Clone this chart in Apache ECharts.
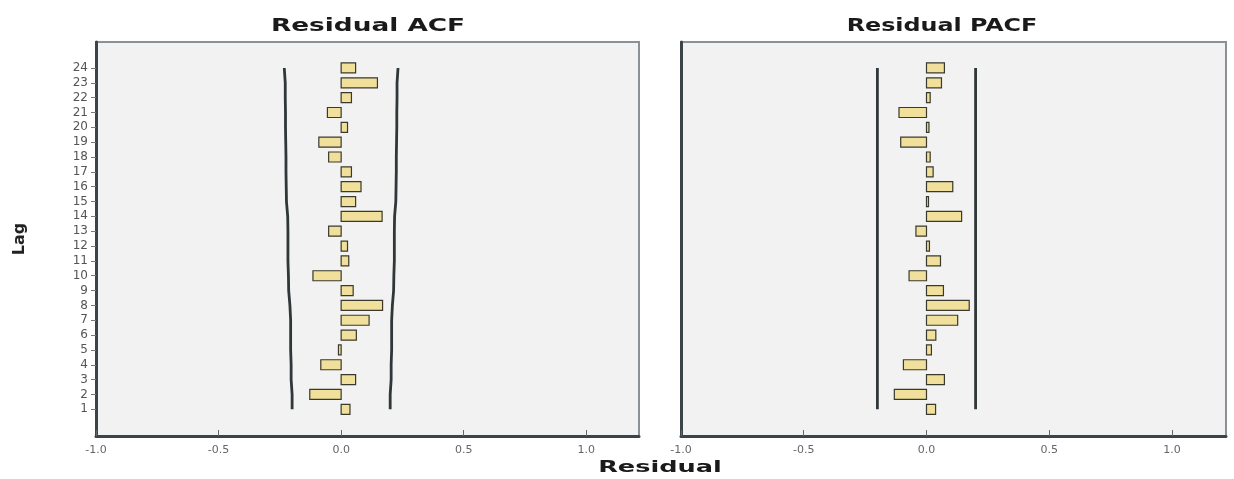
<!DOCTYPE html>
<html>
<head>
<meta charset="utf-8">
<script src="https://cdn.jsdelivr.net/npm/echarts@6/dist/echarts.min.js"></script>
<style>
html,body{margin:0;padding:0;background:#ffffff;}
#chart{width:1234px;height:479px;}
</style>
</head>
<body>
<div id="chart"></div>
<script>
// ---- data ----
const lags = [1,2,3,4,5,6,7,8,9,10,11,12,13,14,15,16,17,18,19,20,21,22,23,24];
const acfValues = [0.036,-0.128,0.059,-0.083,-0.011,0.062,0.114,0.169,0.049,-0.115,0.031,0.026,-0.051,0.167,0.059,0.081,0.042,-0.051,-0.091,0.026,-0.056,0.042,0.148,0.059];
const acfUpper = [0.200,0.200,0.204,0.204,0.206,0.206,0.206,0.209,0.214,0.215,0.217,0.217,0.217,0.218,0.223,0.224,0.225,0.225,0.226,0.227,0.227,0.228,0.228,0.232];
const acfLower = [-0.200,-0.200,-0.204,-0.204,-0.206,-0.206,-0.206,-0.209,-0.214,-0.215,-0.217,-0.217,-0.217,-0.218,-0.223,-0.224,-0.225,-0.225,-0.226,-0.227,-0.227,-0.228,-0.228,-0.232];
const pacfValues = [0.037,-0.131,0.073,-0.094,0.020,0.038,0.127,0.174,0.069,-0.071,0.057,0.012,-0.043,0.143,0.008,0.107,0.027,0.015,-0.105,0.010,-0.112,0.015,0.061,0.073];
const pacfUpper = [0.200,0.200];
const pacfLower = [-0.200,-0.200];
const pacfLimitLags = [1,24];
const xTicks = [-1.0,-0.5,0.0,0.5,1.0];
const titles = ['Residual ACF','Residual PACF'];
const xName = 'Residual';
const yName = 'Lag';

// ---- build ----
const chart = echarts.init(document.getElementById('chart'), null, {renderer:'canvas'});
const pair = (xs, ys) => xs.map((v,i)=>[v, ys[i]]);

function barItem(params, api){
  const v = api.value(0), l = api.value(1);
  const p0 = api.coord([0, l]);
  const p1 = api.coord([v, l]);
  const h = 10;
  const x = Math.min(p0[0], p1[0]);
  const w = Math.max(Math.abs(p1[0]-p0[0]), 2);
  return {type:'rect', shape:{x:x, y:p0[1]-h/2, width:w, height:h},
    style:{fill:'#f0e09c', stroke:'#3a392c', lineWidth:1.2}};
}

const grids = [
  {left:96, top:42, width:543, height:394},
  {left:681, top:42, width:545, height:394}
];
const xMax = [1.215, 1.22];

const option = {
  animation:false,
  backgroundColor:'#ffffff',
  grid: grids.map(g=>Object.assign({show:true, backgroundColor:'#f2f2f2', borderColor:'#8a9296', borderWidth:2}, g)),
  xAxis: [0,1].map(i=>({
    gridIndex:i, type:'value', min:-1, max:xMax[i],
    splitLine:{show:false},
    axisLine:{show:true, onZero:false, lineStyle:{color:'#3c4448', width:3}},
    axisTick:{show:true, inside:true, length:6, customValues:xTicks, lineStyle:{color:'#666', width:1}},
    axisLabel:{customValues:xTicks, formatter:v=>v.toFixed(1), color:'#666', fontSize:11, margin:9, fontFamily:'DejaVu Sans'}
  })),
  yAxis: [0,1].map(i=>({
    gridIndex:i, type:'value', min:-0.8, max:25.75,
    name: i===0 ? yName : '', nameLocation:'middle', nameGap:68, nameRotate:90,
    nameTextStyle:{fontSize:16, fontWeight:'bold', color:'#222', fontFamily:'DejaVu Sans'},
    splitLine:{show:false},
    axisLine:{show:true, onZero:false, lineStyle:{color:'#3c4448', width:3}},
    axisTick:{show:i===0, length:5, customValues:lags, lineStyle:{color:'#777', width:1}},
    axisLabel:{show:i===0, customValues:lags, color:'#555', fontSize:12, margin:8, fontFamily:'DejaVu Sans'}
  })),
  graphic:[
    {type:'text', x:368, y:27, scaleX:1.55, style:{text:titles[0], font:'bold 17px "DejaVu Sans"', fill:'#1a1a1a', textAlign:'center', textVerticalAlign:'middle'}},
    {type:'text', x:942, y:27, scaleX:1.4, style:{text:titles[1], font:'bold 17px "DejaVu Sans"', fill:'#1a1a1a', textAlign:'center', textVerticalAlign:'middle'}},
    {type:'text', x:660, y:468, scaleX:1.6, style:{text:xName, font:'bold 16px "DejaVu Sans"', fill:'#1a1a1a', textAlign:'center', textVerticalAlign:'middle'}}
  ],
  series:[
    {type:'line', xAxisIndex:0, yAxisIndex:0, data:pair(acfLower, lags), showSymbol:false, smooth:false, lineStyle:{color:'#2f3739', width:2.8}, z:3},
    {type:'line', xAxisIndex:0, yAxisIndex:0, data:pair(acfUpper, lags), showSymbol:false, smooth:false, lineStyle:{color:'#2f3739', width:2.8}, z:3},
    {type:'custom', xAxisIndex:0, yAxisIndex:0, data:pair(acfValues, lags), encode:{x:0, y:1}, renderItem:barItem, z:4},
    {type:'line', xAxisIndex:1, yAxisIndex:1, data:pair(pacfLower, pacfLimitLags), showSymbol:false, lineStyle:{color:'#2f3739', width:2.8}, z:3},
    {type:'line', xAxisIndex:1, yAxisIndex:1, data:pair(pacfUpper, pacfLimitLags), showSymbol:false, lineStyle:{color:'#2f3739', width:2.8}, z:3},
    {type:'custom', xAxisIndex:1, yAxisIndex:1, data:pair(pacfValues, lags), encode:{x:0, y:1}, renderItem:barItem, z:4}
  ]
};
chart.setOption(option);
</script>
</body>
</html>
